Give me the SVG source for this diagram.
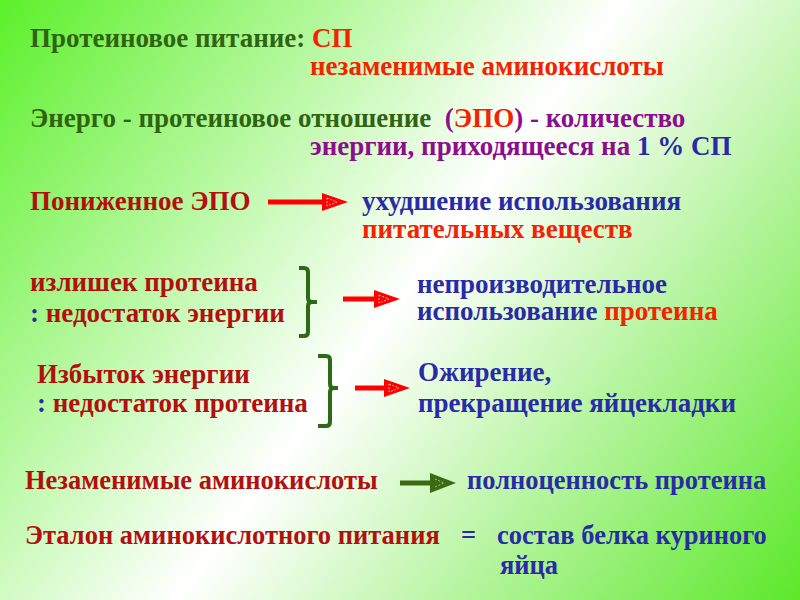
<svg xmlns="http://www.w3.org/2000/svg" width="800" height="600" viewBox="0 0 800 600">
<defs>
<linearGradient id="bg" gradientUnits="userSpaceOnUse" x1="0" y1="0" x2="800" y2="600">
<stop offset="0" stop-color="#5cf02a"/>
<stop offset="0.5" stop-color="#ffffff"/>
<stop offset="1" stop-color="#5ce82a"/>
</linearGradient>
<g id="ahRed"><path d="M0,-9 L26,0 L0,9 Z" fill="#ff0000"/><path d="M5,-4 L15,0 L5,4 Z" fill="none" stroke="#ffb0b0" stroke-width="1" stroke-dasharray="2,1.5"/></g>
</defs>
<style>
text{font-family:"Liberation Serif","Times New Roman",serif;font-weight:bold;font-size:27px}
.sm{font-size:26.5px}
.g{fill:#2f6410}.r{fill:#f52200}.dr{fill:#b30f0f}.p{fill:#8e0c8e}.b{fill:#2a2aa8}
.br{fill:none;stroke:#2d6a16;stroke-width:4;stroke-linejoin:round;stroke-linecap:butt}
.ln{stroke:#ff0000;stroke-width:5}
</style>
<rect width="800" height="600" fill="url(#bg)"/>
<g id="n1"><text x="30" y="47" class="g">Протеиновое питание: <tspan class="r">СП</tspan></text>
<text x="310" y="75" class="r">незаменимые аминокислоты</text></g>
<g id="n2"><text x="30" y="127" class="g" xml:space="preserve">Энерго - протеиновое отношение  <tspan class="p">(</tspan><tspan class="r">ЭПО</tspan><tspan class="p">) - количество</tspan></text>
<text x="310" y="155" class="p">энергии, приходящееся на <tspan class="b">1 % СП</tspan></text></g>
<g id="n3"><text x="30" y="210" class="dr">Пониженное ЭПО</text></g>
<g id="n4"><text x="362" y="210" class="b">ухудшение использования</text>
<text x="362" y="238" class="r">питательных веществ</text></g>
<g id="n5"><text x="30" y="291" class="dr">излишек протеина</text>
<text x="30" y="322" class="dr"><tspan class="b">:</tspan> недостаток энергии</text></g>
<g id="n6"><text x="417" y="293" class="b">непроизводительное</text>
<text x="417" y="320" class="b">использование <tspan class="r">протеина</tspan></text></g>
<g id="n7"><text x="37" y="383" class="dr">Избыток энергии</text>
<text x="37" y="412" class="dr"><tspan class="b">:</tspan> недостаток протеина</text></g>
<g id="n8"><text x="418" y="381" class="b">Ожирение,</text>
<text x="418" y="412" class="b">прекращение яйцекладки</text></g>
<g id="n9"><text x="25" y="489" class="dr sm">Незаменимые аминокислоты</text></g>
<g id="n10"><text x="467" y="489" class="b sm">полноценность протеина</text></g>
<g id="n11"><text x="25" y="544" class="dr sm">Эталон аминокислотного питания</text>
<text x="461" y="544" class="b sm">=</text></g>
<g id="n12"><text x="497" y="544" class="b sm">состав белка куриного</text>
<text x="500" y="574" class="b sm">яйца</text></g>
<g id="connectors">
<line x1="268" y1="202" x2="324" y2="202" class="ln"/><use href="#ahRed" x="322" y="202"/>
<path class="br" d="M299,268 H304 Q308,268 308,272 V298 Q308,302 312,302 H317 M312,302 Q308,302 308,306 V332 Q308,336 304,336 H299"/>
<line x1="343" y1="299" x2="376" y2="299" class="ln"/><use href="#ahRed" x="374" y="299"/>
<path class="br" d="M318,356 H326 Q330,356 330,360 V384 Q330,388 334,388 H338 M334,388 Q330,388 330,392 V422 Q330,426 326,426 H318"/>
<line x1="355" y1="388" x2="386" y2="388" class="ln"/><use href="#ahRed" x="384" y="388"/>
<line x1="400" y1="483" x2="432" y2="483" stroke="#3a6a12" stroke-width="5"/>
<path d="M430,473 L456,483 L430,493 Z" fill="#3a6a12"/>
<path d="M435,479 L444,483 L435,487" fill="none" stroke="#a0c080" stroke-width="1" stroke-dasharray="2,1.5"/>
</g>
</svg>
